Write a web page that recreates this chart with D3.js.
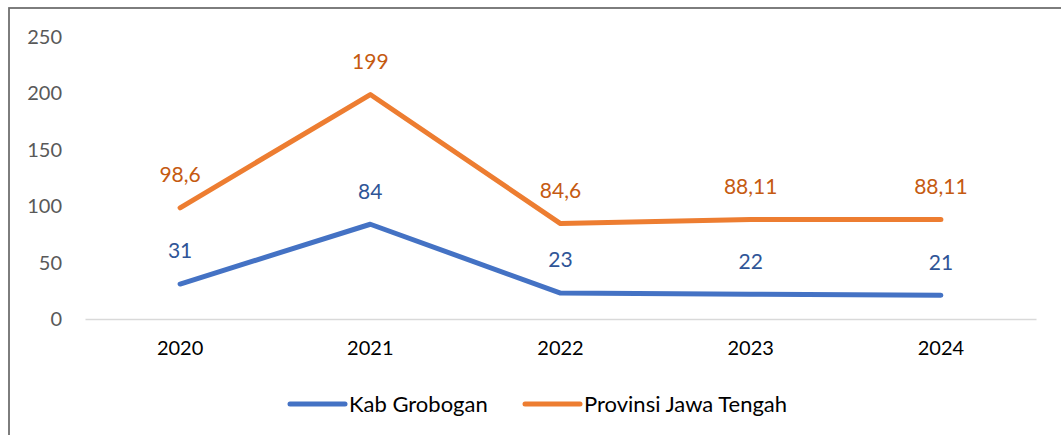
<!DOCTYPE html>
<html>
<head>
<meta charset="utf-8">
<script src="https://cdn.jsdelivr.net/npm/d3@7"></script>
<style>
  html, body { margin: 0; padding: 0; background: #fff; }
  svg { display: block; font-family: Lato, "Open Sans", sans-serif; }
</style>
</head>
<body>
<svg id="chart" width="1061" height="435"></svg>
<script>
// Years on the x axis
const years = ["2020", "2021", "2022", "2023", "2024"];
// Values per series
const grobogan = [31, 84, 23, 22, 21];
const jateng = [98.6, 199, 84.6, 88.11, 88.11];
// Printed data labels (comma as decimal separator)
const groboganLabels = ["31", "84", "23", "22", "21"];
const jatengLabels = ["98,6", "199", "84,6", "88,11", "88,11"];
// Y axis ticks
const yTicks = [0, 50, 100, 150, 200, 250];
const seriesNames = ["Kab Grobogan", "Provinsi Jawa Tengah"];

const svg = d3.select("#chart");

// outer frame
svg.append("rect")
  .attr("x", 9).attr("y", 8)
  .attr("width", 1100).attr("height", 500)
  .attr("fill", "none")
  .attr("stroke", "#6b6b6b")
  .attr("stroke-width", 1.75);

const plot = { left: 85, right: 1036, top: 37, bottom: 319 };

const x = d3.scaleBand().domain(years).range([plot.left, plot.right]);
const y = d3.scaleLinear().domain([0, 250]).range([plot.bottom, plot.top]);

// y tick labels
const yAxis = svg.append("g")
  .attr("transform", `translate(${plot.left},0)`)
  .call(d3.axisLeft(y).tickValues(yTicks).tickSize(0).tickPadding(23));
yAxis.select(".domain").remove();
yAxis.selectAll("text")
  .attr("font-family", "Lato, sans-serif")
  .attr("font-size", 20)
  .attr("fill", "#595959");

// baseline + category labels
const xAxis = svg.append("g")
  .attr("transform", `translate(0,${plot.bottom})`)
  .call(d3.axisBottom(x).tickSize(0).tickPadding(22));
xAxis.select(".domain").attr("stroke", "#d9d9d9").attr("stroke-width", 1.5);
xAxis.selectAll("text")
  .attr("font-family", "Lato, sans-serif")
  .attr("font-size", 20)
  .attr("fill", "#000");

const series = [
  { name: seriesNames[0], values: grobogan, labels: groboganLabels, color: "#4472c4", text: "#2f5597" },
  { name: seriesNames[1], values: jateng, labels: jatengLabels, color: "#ed7d31", text: "#c55a11" }
];

const line = d3.line()
  .x((d, i) => x(years[i]) + x.bandwidth() / 2)
  .y(d => y(d));

series.forEach(s => {
  svg.append("path")
    .datum(s.values)
    .attr("d", line)
    .attr("fill", "none")
    .attr("stroke", s.color)
    .attr("stroke-width", 5)
    .attr("stroke-linecap", "round")
    .attr("stroke-linejoin", "round");

  svg.append("g").selectAll("text")
    .data(s.values)
    .join("text")
    .attr("x", (d, i) => x(years[i]) + x.bandwidth() / 2)
    .attr("y", d => y(d) - 33)
    .attr("dy", "0.35em")
    .attr("text-anchor", "middle")
    .attr("font-size", 21)
    .attr("fill", s.text)
    .text((d, i) => s.labels[i]);
});

// legend
const legend = svg.append("g");
const legendItems = [
  { x0: 290, name: seriesNames[0], color: series[0].color },
  { x0: 525, name: seriesNames[1], color: series[1].color }
];
legendItems.forEach(it => {
  legend.append("line")
    .attr("x1", it.x0).attr("x2", it.x0 + 55)
    .attr("y1", 404).attr("y2", 404)
    .attr("stroke", it.color)
    .attr("stroke-width", 5)
    .attr("stroke-linecap", "round");
  legend.append("text")
    .attr("x", it.x0 + 59)
    .attr("y", 404)
    .attr("dy", "0.35em")
    .attr("font-size", 22)
    .attr("fill", "#000")
    .text(it.name);
});
</script>
</body>
</html>
